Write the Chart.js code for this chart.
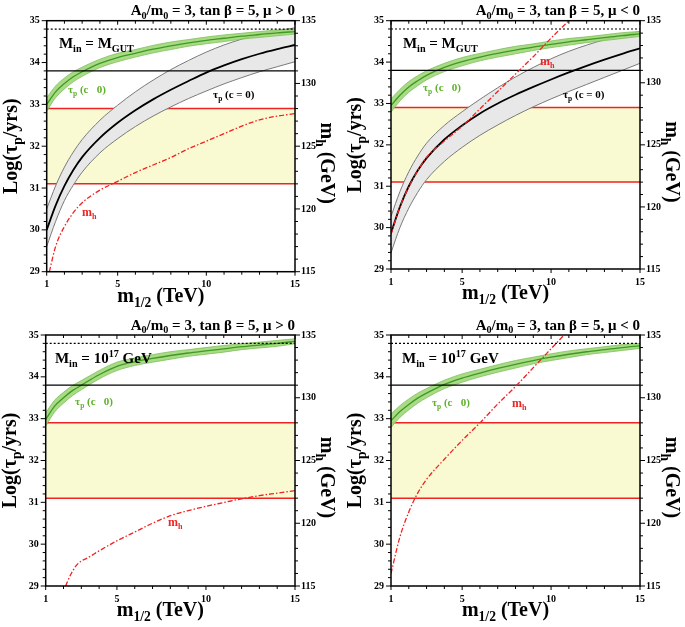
<!DOCTYPE html>
<html>
<head>
<meta charset="utf-8">
<script src="https://cdn.jsdelivr.net/npm/chart.js@4.4.1/dist/chart.umd.min.js"></script>
<style>
  body { margin: 0; background: #fff; width: 685px; height: 627px; position: relative; overflow: hidden; }
  canvas { position: absolute; }
</style>
</head>
<body>
<canvas id="p1" width="342" height="312" style="left:0;top:0;width:342px;height:312px"></canvas>
<canvas id="p2" width="343" height="312" style="left:342px;top:0;width:343px;height:312px"></canvas>
<canvas id="p3" width="342" height="315" style="left:0;top:312px;width:342px;height:315px"></canvas>
<canvas id="p4" width="343" height="315" style="left:342px;top:312px;width:343px;height:315px"></canvas>
<script>
// ---- data ----
const xTicks = [1, 5, 10, 15];
const yTicks = [29, 30, 31, 32, 33, 34, 35];
const mhTicks = [115, 120, 125, 130, 135];

const mGrid = [1, 1.5, 2, 2.5, 3, 4, 5, 6, 7, 8, 9, 10, 11, 12, 13, 14, 15];

// tau_p (c != 0), green band centre, Log(tau/yrs)
const greenGutPos = [33.0, 33.3, 33.5, 33.66, 33.78, 33.98, 34.12, 34.22, 34.32, 34.4, 34.47, 34.53, 34.58, 34.63, 34.67, 34.71, 34.74];
const greenGutNeg = [32.95, 33.2, 33.4, 33.55, 33.68, 33.87, 34.01, 34.12, 34.21, 34.29, 34.36, 34.43, 34.49, 34.54, 34.59, 34.64, 34.68];
const green17Pos = [32.98, 33.3, 33.5, 33.67, 33.8, 34.05, 34.25, 34.36, 34.44, 34.51, 34.57, 34.62, 34.67, 34.72, 34.76, 34.8, 34.85];
const green17Neg = [32.95, 33.17, 33.34, 33.49, 33.61, 33.82, 33.97, 34.09, 34.2, 34.3, 34.39, 34.47, 34.54, 34.6, 34.65, 34.7, 34.74];
const greenHalf = [0.16, 0.14, 0.13, 0.12, 0.11, 0.1, 0.1, 0.09, 0.09, 0.09, 0.08, 0.08, 0.08, 0.07, 0.07, 0.07, 0.06];

// tau_p (c = 0), grey band (M_in = M_GUT only)
const greyGutPosMid = [30.0, 30.58, 31.05, 31.43, 31.74, 32.2, 32.56, 32.86, 33.12, 33.35, 33.56, 33.76, 33.93, 34.08, 34.21, 34.32, 34.42];
const greyGutPosHi = [30.5, 31.05, 31.5, 31.86, 32.16, 32.62, 32.98, 33.3, 33.58, 33.83, 34.05, 34.25, 34.42, 34.56, 34.67, 34.76, 34.83];
const greyGutPosLo = [29.6, 30.2, 30.7, 31.07, 31.38, 31.84, 32.18, 32.47, 32.72, 32.94, 33.14, 33.32, 33.49, 33.64, 33.78, 33.9, 34.02];
const greyGutNegMid = [29.87, 30.5, 31.0, 31.38, 31.68, 32.13, 32.47, 32.76, 33.0, 33.21, 33.4, 33.58, 33.75, 33.91, 34.06, 34.2, 34.33];
const greyGutNegHi = [30.27, 30.87, 31.35, 31.73, 32.04, 32.47, 32.8, 33.1, 33.38, 33.64, 33.87, 34.08, 34.26, 34.41, 34.54, 34.65, 34.74];
const greyGutNegLo = [29.39, 30.0, 30.47, 30.85, 31.16, 31.6, 31.94, 32.23, 32.48, 32.71, 32.92, 33.11, 33.29, 33.46, 33.63, 33.8, 33.97];

// m_h (GeV), right axis
const mhXGutPos = [1.15, 1.5, 2, 2.5, 3, 4, 5, 6, 7, 8, 9, 10, 11, 12, 13, 14, 15];
const mhGutPos = [115, 117.0, 118.6, 119.7, 120.5, 121.5, 122.2, 122.9, 123.5, 124.1, 124.8, 125.4, 126.0, 126.6, 127.1, 127.4, 127.6];
const mhXGutNeg = [1, 1.5, 2, 2.5, 3, 4, 5, 6, 7, 8, 9, 10, 11];
const mhGutNeg = [117.8, 120.0, 121.6, 122.9, 124.0, 125.3, 126.5, 127.9, 129.3, 130.7, 132.1, 133.6, 135.0];
const mhX17Pos = [2.12, 2.4, 2.7, 3, 3.3, 4, 5, 6, 7, 8, 9, 10, 11, 12, 13, 14, 15];
const mh17Pos = [115, 115.9, 116.6, 117.0, 117.2, 117.8, 118.6, 119.3, 120.0, 120.6, 121.0, 121.35, 121.65, 121.95, 122.2, 122.4, 122.6];
const mhX17Neg = [1, 1.5, 2, 2.5, 3, 4, 5, 6, 7, 8, 9, 10, 11];
const mh17Neg = [116.0, 118.9, 120.9, 122.4, 123.5, 125.1, 126.6, 128.0, 129.5, 130.9, 132.4, 133.9, 135.4];

// experimental lines
const xRange = [1, 15];
const hyperKReach = 34.8;
const superKLimit = 33.8;
const bandTop = 32.9;
const bandBottom = 31.1;

// ---- styling ----
const FONT = '"Liberation Serif", "DejaVu Serif", serif';
const RED = '#f02222';
const GREEN_TXT = '#5fb02c';
const YELLOW = '#fafad2';
const tickFont = { family: FONT, size: 10, weight: 'bold' };

const minGut = [['M', 0], ['in', 1], [' = M', 0], ['GUT', 1]];
const min17 = [['M', 0], ['in', 1], [' = 10', 0], ['17', 2], [' GeV', 0]];
const tauC = [['τ', 0], ['p', 1], [' (c   0)', 0]];
const tau0 = [['τ', 0], ['p', 1], [' (c = 0)', 0]];
const mhLabel = [['m', 0], ['h', 1]];

const panels = [
  { id: 'p1', mu: '>', green: greenGutPos, grey: [greyGutPosLo, greyGutPosMid, greyGutPosHi], mhX: mhXGutPos, mh: mhGutPos,
    pad: { l: 46.7, r: 47, t: 20.7, b: 40.3 },
    labels: [{ parts: minGut, x: 1.69, y: 34.35, size: 15, color: '#000' },
             { parts: tauC, x: 2.2, y: 33.27, size: 11, color: GREEN_TXT },
             { parts: tau0, x: 10.38, y: 33.15, size: 11, color: '#000' },
             { parts: mhLabel, x: 2.99, y: 30.33, size: 12, color: RED }] },
  { id: 'p2', mu: '<', green: greenGutNeg, grey: [greyGutNegLo, greyGutNegMid, greyGutNegHi], mhX: mhXGutNeg, mh: mhGutNeg,
    pad: { l: 49, r: 45, t: 20.7, b: 43 },
    labels: [{ parts: minGut, x: 1.67, y: 34.34, size: 15, color: '#000' },
             { parts: tauC, x: 2.8, y: 33.3, size: 11, color: GREEN_TXT },
             { parts: tau0, x: 10.67, y: 33.13, size: 11, color: '#000' },
             { parts: mhLabel, x: 9.38, y: 33.93, size: 12, color: RED }] },
  { id: 'p3', mu: '>', green: green17Pos, grey: null, mhX: mhX17Pos, mh: mh17Pos,
    pad: { l: 45.7, r: 47, t: 23, b: 41 },
    labels: [{ parts: min17, x: 1.52, y: 34.33, size: 15, color: '#000' },
             { parts: tauC, x: 2.65, y: 33.33, size: 11, color: GREEN_TXT },
             { parts: mhLabel, x: 7.87, y: 30.43, size: 12, color: RED }] },
  { id: 'p4', mu: '<', green: green17Neg, grey: null, mhX: mhX17Neg, mh: mh17Neg,
    pad: { l: 49, r: 45, t: 23, b: 41 },
    labels: [{ parts: min17, x: 1.62, y: 34.33, size: 15, color: '#000' },
             { parts: tauC, x: 3.3, y: 33.3, size: 11, color: GREEN_TXT },
             { parts: mhLabel, x: 7.8, y: 33.28, size: 12, color: RED }] }
];

// draws text with sub (1) / superscripts (2)
function rich(ctx, parts, x, y, size, color, align) {
  ctx.save();
  ctx.fillStyle = color;
  ctx.textBaseline = 'alphabetic';
  ctx.textAlign = 'left';
  const fontFor = s => `bold ${s}px ${FONT}`;
  const items = parts.map(([t, k]) => {
    const s = k ? size * 0.68 : size;
    ctx.font = fontFor(s);
    return { t, s, dy: k === 1 ? size * 0.25 : k === 2 ? -size * 0.42 : 0, w: ctx.measureText(t).width };
  });
  const total = items.reduce((s, it) => s + it.w, 0);
  let cx = align === 'right' ? x - total : align === 'center' ? x - total / 2 : x;
  items.forEach(it => { ctx.font = fontFor(it.s); ctx.fillText(it.t, cx, y + it.dy); cx += it.w; });
  ctx.restore();
}

const panelDeco = {
  id: 'panelDeco',
  afterDraw(chart, args, o) {
    const { ctx, chartArea: a, scales } = chart;
    const line = (x1, y1, x2, y2) => { ctx.beginPath(); ctx.moveTo(x1, y1); ctx.lineTo(x2, y2); ctx.stroke(); };
    ctx.save();
    ctx.strokeStyle = '#000';
    ctx.lineWidth = 1;
    for (let m = 1; m <= 15; m++) {
      const px = scales.x.getPixelForValue(m);
      const len = xTicks.includes(m) ? 4 : 3;
      line(px, a.bottom, px, a.bottom + len);
      line(px, a.top, px, a.top + len);
    }
    for (let k = 0; k <= 30; k++) {
      const py = scales.y.getPixelForValue(29 + k * 0.2);
      line(a.left, py, a.left - (k % 5 === 0 ? 5 : 3), py);
    }
    for (let g = 115; g <= 135; g++) {
      const py = scales.yR.getPixelForValue(g);
      line(a.right, py, a.right + (g % 5 === 0 ? 5 : 3), py);
    }
    ctx.lineWidth = 1.5;
    ctx.strokeRect(a.left, a.top, a.right - a.left, a.bottom - a.top);
    ctx.restore();

    rich(ctx, [['A', 0], ['0', 1], ['/m', 0], ['0', 1], [' = 3, tan β = 5, μ ' + o.mu + ' 0', 0]], a.right, a.top - 5.5, 15, '#000', 'right');
    rich(ctx, [['m', 0], ['1/2', 1], [' (TeV)', 0]], (a.left + a.right) / 2 - 10, a.bottom + 30, 20, '#000', 'center');
    ctx.save();
    ctx.translate(a.left - 30, (a.top + a.bottom) / 2);
    ctx.rotate(-Math.PI / 2);
    rich(ctx, [['Log(τ', 0], ['p', 1], ['/yrs)', 0]], 0, 0, 20, '#000', 'center');
    ctx.restore();
    ctx.save();
    ctx.translate(a.right + 26, (a.top + a.bottom) / 2 + 17);
    ctx.rotate(Math.PI / 2);
    rich(ctx, [['m', 0], ['h', 1], [' (GeV)', 0]], 0, 0, 20, '#000', 'center');
    ctx.restore();

    o.labels.forEach(l => rich(ctx, l.parts, scales.x.getPixelForValue(l.x), scales.y.getPixelForValue(l.y), l.size, l.color, 'left'));
  }
};

function buildDatasets(p) {
  const pts = (xs, ys) => xs.map((x, i) => ({ x, y: ys[i] }));
  const flat = v => xRange.map(x => ({ x, y: v }));
  const ds = [];
  const add = d => {
    ds.push(Object.assign({ pointRadius: 0, cubicInterpolationMode: 'monotone', yAxisID: 'y', fill: false }, d));
    return ds.length - 1;
  };

  const iTop = add({ data: flat(bandTop), borderColor: RED, borderWidth: 1.5, order: 19 });
  add({ data: flat(bandBottom), borderColor: RED, borderWidth: 1.5, fill: iTop, backgroundColor: YELLOW, order: 20 });

  if (p.grey) {
    const [lo, mid, hi] = p.grey;
    const iHi = add({ data: pts(mGrid, hi), borderColor: '#7a7a7a', borderWidth: 1, order: 14 });
    add({ data: pts(mGrid, lo), borderColor: '#7a7a7a', borderWidth: 1, fill: iHi, backgroundColor: '#e8e8e8', order: 15 });
    add({ data: pts(mGrid, mid), borderColor: '#000', borderWidth: 1.8, order: 13 });
  }

  const gHi = p.green.map((v, i) => v + greenHalf[i]);
  const gLo = p.green.map((v, i) => v - greenHalf[i]);
  const iG = add({ data: pts(mGrid, gHi), borderColor: '#7cc05a', borderWidth: 0.8, order: 9 });
  add({ data: pts(mGrid, gLo), borderColor: '#7cc05a', borderWidth: 0.8, fill: iG, backgroundColor: 'rgba(160,214,120,0.9)', order: 10 });
  add({ data: pts(mGrid, p.green), borderColor: '#3e9a22', borderWidth: 1.3, order: 8 });

  add({ data: flat(superKLimit), borderColor: '#000', borderWidth: 1.3, order: 6 });
  add({ data: flat(hyperKReach), borderColor: '#000', borderWidth: 1.2, borderDash: [2, 2], order: 5 });

  add({ data: pts(p.mhX, p.mh), yAxisID: 'yR', borderColor: RED, borderWidth: 1.3, borderDash: [5, 2, 1.5, 2], order: 1 });
  return ds;
}

panels.forEach(p => {
  new Chart(document.getElementById(p.id), {
    type: 'line',
    data: { datasets: buildDatasets(p) },
    options: {
      responsive: false,
      animation: false,
      events: [],
      layout: { padding: { top: p.pad.t, left: 0, right: 0, bottom: 0 } },
      plugins: { legend: { display: false }, tooltip: { enabled: false }, panelDeco: { mu: p.mu, labels: p.labels } },
      scales: {
        x: {
          type: 'linear', min: xRange[0], max: xRange[1],
          afterBuildTicks: s => { s.ticks = xTicks.map(v => ({ value: v })); },
          afterFit: s => { s.height = p.pad.b; },
          grid: { display: false, drawTicks: false }, border: { display: false },
          ticks: { font: tickFont, color: '#000', padding: 7, maxRotation: 0, autoSkip: false }
        },
        y: {
          position: 'left', min: 29, max: 35,
          afterBuildTicks: s => { s.ticks = yTicks.map(v => ({ value: v })); },
          afterFit: s => { s.width = p.pad.l; },
          grid: { display: false, drawTicks: false }, border: { display: false },
          ticks: { font: tickFont, color: '#000', padding: 7, autoSkip: false }
        },
        yR: {
          position: 'right', min: 115, max: 135,
          afterBuildTicks: s => { s.ticks = mhTicks.map(v => ({ value: v })); },
          afterFit: s => { s.width = p.pad.r; },
          grid: { display: false, drawTicks: false }, border: { display: false },
          ticks: { font: tickFont, color: '#000', padding: 6, autoSkip: false }
        }
      }
    },
    plugins: [panelDeco]
  });
});
</script>
</body>
</html>
